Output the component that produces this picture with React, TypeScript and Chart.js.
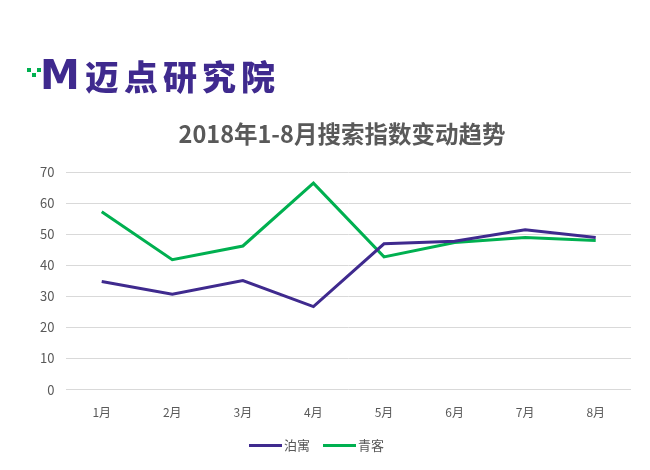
import React, { useEffect, useRef } from "react";
import { Chart, registerables } from "chart.js";

Chart.register(...registerables);

const months = ["1月", "2月", "3月", "4月", "5月", "6月", "7月", "8月"];
const boyuValues = [34.8, 30.7, 35.1, 26.7, 46.9, 47.7, 51.4, 48.9];
const qingkeValues = [57.2, 41.8, 46.2, 66.4, 42.7, 47.3, 48.9, 48.0];
const seriesNames = ["泊寓", "青客"];
const titleText = "2018年1-8月搜索指数变动趋势";

const PURPLE = "#3f2a8e";
const GREEN = "#00b050";
const colors = [PURPLE, GREEN];
const FONT = "'Noto Sans CJK SC', 'Noto Sans', sans-serif";

export default function App() {
  const ref = useRef<HTMLCanvasElement | null>(null);

  useEffect(() => {
    document.body.style.margin = "0";
    const ctx = ref.current;
    if (!ctx) return;
    const chart = new Chart(ctx, {
      type: "line",
      data: {
        labels: months,
        datasets: [
          {
            label: seriesNames[0],
            data: boyuValues,
            borderColor: PURPLE,
            backgroundColor: PURPLE,
            borderWidth: 3,
            pointRadius: 0,
            tension: 0,
          },
          {
            label: seriesNames[1],
            data: qingkeValues,
            borderColor: GREEN,
            backgroundColor: GREEN,
            borderWidth: 3,
            pointRadius: 0,
            tension: 0,
          },
        ],
      },
      options: {
        animation: false,
        responsive: false,
        maintainAspectRatio: false,
        layout: { padding: { top: 172, left: 28, right: 19, bottom: 42 } },
        plugins: {
          title: { display: false },
          legend: { display: false },
          tooltip: { enabled: false },
        },
        scales: {
          x: {
            offset: true,
            grid: { display: false },
            border: { display: false },
            ticks: { color: "#595959", font: { family: FONT, size: 12 }, padding: 8 },
          },
          y: {
            min: 0,
            max: 70,
            ticks: { stepSize: 10, color: "#595959", font: { family: FONT, size: 13 }, padding: 12 },
            grid: { color: "#d9d9d9", drawTicks: false },
            border: { display: false },
          },
        },
      },
    });
    return () => chart.destroy();
  }, []);

  return (
    <div style={{ position: "relative", width: 650, height: 470, background: "#fff" }}>
      <div
        style={{
          position: "absolute",
          left: 27,
          top: 56,
          display: "flex",
          alignItems: "center",
          fontFamily: FONT,
          color: PURPLE,
        }}
      >
        <div style={{ position: "relative", width: 50, height: 34 }}>
          <div style={{ position: "absolute", left: 0, top: 9, width: 4, height: 4, background: GREEN }} />
          <div style={{ position: "absolute", left: 5, top: 14, width: 4, height: 4, background: GREEN }} />
          <div style={{ position: "absolute", left: 10, top: 9, width: 4, height: 4, background: GREEN }} />
          <div
            style={{
              position: "absolute",
              left: 13,
              top: -9,
              fontSize: 40,
              fontWeight: 900,
              lineHeight: "50px",
              fontFamily: "'DejaVu Sans', sans-serif",
            }}
          >
            M
          </div>
        </div>
        <div
          style={{
            marginLeft: 8,
            fontSize: 34,
            fontWeight: 900,
            letterSpacing: 5,
            lineHeight: "40px",
          }}
        >
          迈点研究院
        </div>
      </div>
      <div
        style={{
          position: "absolute",
          left: 0,
          top: 118,
          width: 684,
          textAlign: "center",
          fontFamily: FONT,
          fontSize: 23.5,
          fontWeight: "bold",
          lineHeight: "30px",
          color: "#595959",
          whiteSpace: "nowrap",
        }}
      >
        {titleText}
      </div>
      <div
        style={{
          position: "absolute",
          left: 249,
          top: 436,
          height: 18,
          display: "flex",
          alignItems: "center",
          fontFamily: FONT,
          fontSize: 13,
          color: "#595959",
        }}
      >
        {seriesNames.map((n, i) => (
          <div key={n} style={{ display: "flex", alignItems: "center", marginRight: 13 }}>
            <div style={{ width: 33, height: 3, background: colors[i], marginRight: 2 }} />
            <span style={{ lineHeight: "18px" }}>{n}</span>
          </div>
        ))}
      </div>
      <canvas ref={ref} width={650} height={470} style={{ display: "block" }} />
    </div>
  );
}
